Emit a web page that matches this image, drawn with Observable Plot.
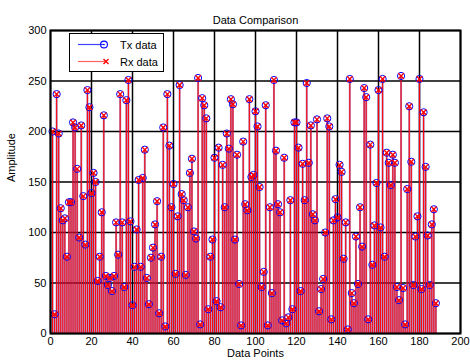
<!DOCTYPE html>
<html>
<head>
<meta charset="utf-8">
<script src="https://cdn.jsdelivr.net/npm/d3@7"></script>
<script src="https://cdn.jsdelivr.net/npm/@observablehq/plot@0.6"></script>
<style>
  html, body { margin: 0; padding: 0; background: #fff; }
  #chart { width: 470px; height: 362px; position: relative; }
</style>
</head>
<body>
<div id="chart"></div>
<script>
const txData = [
  200, 19, 237, 198, 124, 112, 114, 76, 130, 130,
  209, 204, 163, 95, 206, 136, 88, 241, 224, 139,
  159, 150, 52, 76, 120, 216, 57, 48, 55, 42,
  57, 110, 78, 237, 110, 46, 231, 251, 111, 28,
  66, 103, 152, 66, 154, 182, 55, 29, 75, 85,
  108, 131, 20, 76, 204, 7, 237, 186, 125, 148,
  59, 116, 246, 138, 132, 58, 125, 159, 173, 101,
  94, 253, 9, 233, 226, 213, 24, 76, 93, 174,
  32, 184, 26, 167, 125, 198, 183, 232, 227, 93,
  177, 49, 8, 190, 128, 122, 232, 155, 157, 220,
  205, 145, 46, 61, 226, 8, 125, 40, 251, 181,
  128, 120, 13, 174, 10, 16, 132, 24, 209, 209,
  184, 42, 168, 132, 248, 169, 206, 118, 112, 212,
  22, 44, 54, 100, 213, 205, 14, 112, 133, 115,
  167, 160, 74, 110, 4, 252, 40, 30, 96, 49,
  125, 86, 243, 234, 14, 187, 68, 107, 149, 241,
  105, 252, 76, 179, 169, 147, 177, 169, 46, 33,
  255, 45, 9, 143, 225, 170, 48, 96, 116, 252,
  44, 219, 165, 97, 48, 108, 123, 30
];
const rxData = txData.slice();
const indices = txData.map((_, i) => i + 1);
const xTicks = [0, 20, 40, 60, 80, 100, 120, 140, 160, 180, 200];
const yTicks = [0, 50, 100, 150, 200, 250, 300];
const seriesNames = ["Tx data", "Rx data"];

const tx = indices.map((x, i) => ({x, y: txData[i]}));
const rx = indices.map((x, i) => ({x, y: rxData[i]}));

const FONT = "Arial, 'Liberation Sans', Helvetica, sans-serif";

const plot = Plot.plot({
  width: 470,
  height: 362,
  marginLeft: 50,
  marginRight: 10,
  marginTop: 30,
  marginBottom: 29,
  style: {fontFamily: FONT, fontSize: "11px", color: "#000", background: "#fff"},
  x: {domain: [0, 200], ticks: xTicks, label: null, tickSize: 0, tickPadding: 4},
  y: {domain: [0, 300], ticks: yTicks, label: null, tickSize: 0, tickPadding: 4},
  marks: [
    Plot.gridX(xTicks, {stroke: "#000", strokeOpacity: 1, strokeWidth: 1.5}),
    Plot.gridY(yTicks, {stroke: "#000", strokeOpacity: 1, strokeWidth: 1.5}),
    Plot.ruleX(tx, {x: "x", y1: 0, y2: "y", stroke: "#6a1a8a", strokeWidth: 2, strokeOpacity: 0.55}),
    Plot.ruleX(rx, {x: "x", y1: 0, y2: "y", stroke: "#ff0000", strokeWidth: 1}),
    Plot.dot(tx, {x: "x", y: "y", r: 3.6, stroke: "#0000ff", fill: "none", strokeWidth: 1}),
    Plot.dot(rx, {x: "x", y: "y", symbol: "times", r: 2.6, stroke: "#ff0000", strokeWidth: 1.3}),
    Plot.frame({stroke: "#000", strokeWidth: 2}),
    Plot.axisX({ticks: xTicks, tickSize: 0, tickPadding: 4, label: null, fontSize: 11}),
    Plot.axisY({ticks: yTicks, tickSize: 0, tickPadding: 4, label: null, fontSize: 11}),
    Plot.text(["Data Comparison"], {frameAnchor: "top", dy: -14, text: d => d, fontSize: 11, fill: "#000"}),
    Plot.text(["Data Points"], {frameAnchor: "bottom", dy: 23, text: d => d, fontSize: 11, fill: "#000"}),
    Plot.text(["Amplitude"], {frameAnchor: "left", dx: -39, rotate: -90, text: d => d, fontSize: 11, fill: "#000"})
  ]
});

const container = document.getElementById("chart");
container.appendChild(plot);

// Legend overlaid inside the axes (top-left), drawn with plain SVG
const svg = d3.select(plot);
const lg = svg.append("g").attr("font-family", FONT).attr("font-size", 11).attr("text-anchor", "start");
lg.append("rect").attr("x", 69.5).attr("y", 33.5).attr("width", 94).attr("height", 38)
  .attr("fill", "#fff").attr("stroke", "#000").attr("stroke-width", 1);
// Tx entry
lg.append("line").attr("x1", 78).attr("x2", 104).attr("y1", 44.5).attr("y2", 44.5)
  .attr("stroke", "#4040ff").attr("stroke-width", 1.2);
lg.append("circle").attr("cx", 104).attr("cy", 44.5).attr("r", 3.4)
  .attr("fill", "none").attr("stroke", "#0000ff").attr("stroke-width", 1.1);
lg.append("circle").attr("cx", 104).attr("cy", 44.5).attr("r", 0.8).attr("fill", "#0000ff");
lg.append("text").attr("x", 120).attr("y", 48.5).attr("text-anchor", "start").text(seriesNames[0]);
// Rx entry
lg.append("line").attr("x1", 78).attr("x2", 106).attr("y1", 61.5).attr("y2", 61.5)
  .attr("stroke", "#ff6060").attr("stroke-width", 1.2);
lg.append("path").attr("d", "M103.5,59 L108.5,64 M108.5,59 L103.5,64")
  .attr("stroke", "#ff0000").attr("stroke-width", 1.3);
lg.append("text").attr("x", 120).attr("y", 65.5).attr("text-anchor", "start").text(seriesNames[1]);
</script>
</body>
</html>
